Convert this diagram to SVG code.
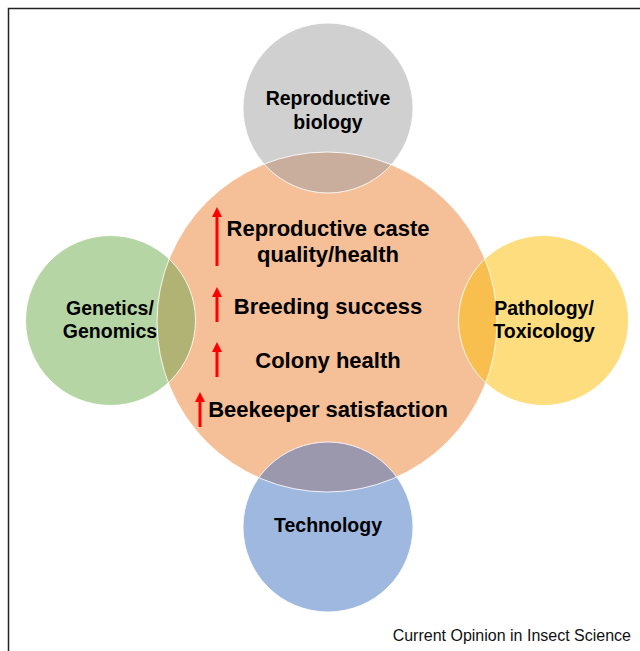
<svg xmlns="http://www.w3.org/2000/svg" width="640" height="651" viewBox="0 0 640 651">
  <style>
    .lbl { font-family: "Liberation Sans", Arial, Helvetica, sans-serif; font-weight: bold; fill: #000; text-anchor: middle; }
    .side { font-size: 19.5px; }
    .core { font-size: 22px; }
    .rim { fill: none; stroke: #fff; stroke-width: 1; stroke-opacity: 0.85; }
    .up { stroke: #ff0000; stroke-width: 3; fill: none; }
    .head { fill: #ff0000; }
    .credit { font-family: "Liberation Sans", Arial, Helvetica, sans-serif; font-size: 16px; fill: #111; text-anchor: end; }
  </style>
  <defs>
    <clipPath id="coreClip"><circle cx="327" cy="322" r="170"/></clipPath>
  </defs>

  <rect width="640" height="651" fill="#fff"/>
  <!-- frame: left and top rules -->
  <path d="M8.5,651 V8.5 H640" fill="none" stroke="#222" stroke-width="1.5"/>

  <!-- central disc fill -->
  <circle id="core-disc" cx="327" cy="322" r="170" fill="#f5bf97"/>

  <!-- satellite discs -->
  <g id="node-reproductive">
    <circle cx="328" cy="108" r="85" fill="#d0d0d0"/>
  </g>
  <g id="node-genetics">
    <circle cx="110.5" cy="320.5" r="85" fill="#b6d5a5"/>
  </g>
  <g id="node-pathology">
    <circle cx="543.5" cy="320.5" r="85" fill="#fedd7f"/>
  </g>
  <g id="node-technology">
    <circle cx="328" cy="527" r="85" fill="#9fb8e0"/>
  </g>

  <!-- lens-shaped overlaps with the central disc -->
  <g id="overlaps" clip-path="url(#coreClip)">
    <circle cx="328" cy="108" r="85" fill="#c9ae9d"/>
    <circle cx="110.5" cy="320.5" r="85" fill="#b0b373"/>
    <circle cx="543.5" cy="320.5" r="85" fill="#f8bf4e"/>
    <circle cx="328" cy="527" r="85" fill="#9b97ad"/>
  </g>

  <!-- thin white outlines -->
  <g id="outlines">
    <circle class="rim" cx="327" cy="322" r="170"/>
    <circle class="rim" cx="328" cy="108" r="85"/>
    <circle class="rim" cx="110.5" cy="320.5" r="85"/>
    <circle class="rim" cx="543.5" cy="320.5" r="85"/>
    <circle class="rim" cx="328" cy="527" r="85"/>
  </g>

  <!-- labels of satellite discs -->
  <g id="label-reproductive">
    <text class="lbl side" x="328" y="105">Reproductive</text>
    <text class="lbl side" x="328" y="129">biology</text>
  </g>
  <g id="label-genetics">
    <text class="lbl side" x="110" y="315">Genetics/</text>
    <text class="lbl side" x="110" y="338">Genomics</text>
  </g>
  <g id="label-pathology">
    <text class="lbl side" x="544" y="315">Pathology/</text>
    <text class="lbl side" x="544" y="338">Toxicology</text>
  </g>
  <g id="label-technology">
    <text class="lbl side" x="328" y="532">Technology</text>
  </g>

  <!-- central outcomes with upward arrows -->
  <g id="node-outcomes">
    <text class="lbl core" x="328" y="236">Reproductive caste</text>
    <text class="lbl core" x="328" y="262">quality/health</text>
    <text class="lbl core" x="328" y="314">Breeding success</text>
    <text class="lbl core" x="328" y="368">Colony health</text>
    <text class="lbl core" x="328" y="417">Beekeeper satisfaction</text>

    <path class="up" d="M217,266 V215"/>
    <polygon class="head" points="217,207 212,217 222,217"/>
    <path class="up" d="M217,322 V295"/>
    <polygon class="head" points="217,287 212,297 222,297"/>
    <path class="up" d="M217,377 V350"/>
    <polygon class="head" points="217,342 212,352 222,352"/>
    <path class="up" d="M200,427 V400"/>
    <polygon class="head" points="200,392 195,402 205,402"/>
  </g>

  <text class="credit" x="631" y="641">Current Opinion in Insect Science</text>
</svg>
